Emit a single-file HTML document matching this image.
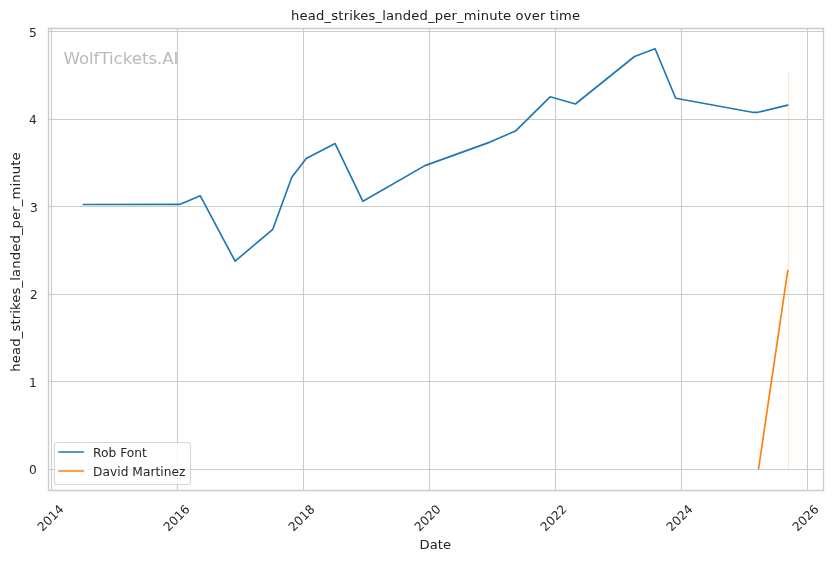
<!DOCTYPE html>
<html><head><meta charset="utf-8"><title>head_strikes_landed_per_minute over time</title><style>
html,body{margin:0;padding:0;background:#fff;}
svg{display:block;will-change:transform;}
</style></head><body>
<svg width="832" height="561" viewBox="0 0 832 561">
<rect x="0" y="0" width="832" height="561" fill="#ffffff"/>
<defs><clipPath id="ax"><rect x="47.958" y="27.716" width="775.0" height="462.0"/></clipPath></defs>
<path d="M51.5 27.716V489.716 M177.5 27.716V489.716 M303.5 27.716V489.716 M429.5 27.716V489.716 M555.5 27.716V489.716 M681.5 27.716V489.716 M807.5 27.716V489.716 M47.958 31.5H822.958 M47.958 119.5H822.958 M47.958 206.5H822.958 M47.958 294.5H822.958 M47.958 381.5H822.958 M47.958 469.5H822.958" clip-path="url(#ax)" fill="none" stroke="#cccccc" stroke-width="1.1111" stroke-linecap="round"/>
<path d="M788.5 72.50V468.72" clip-path="url(#ax)" fill="none" stroke="#ff7f0e" stroke-opacity="0.2" stroke-width="1.1111"/>
<path d="M83.19 204.50 L179.60 204.45 L200.30 195.80 L235.10 261.20 L272.80 229.30 L291.80 177.30 L306.20 158.50 L335.10 143.60 L362.90 201.30 L424.90 165.60 L490.00 142.10 L516.00 130.70 L550.10 96.80 L575.40 104.00 L634.50 56.50 L655.10 48.72 L675.70 98.20 L752.20 112.30 L757.90 112.30 L787.73 105.10" clip-path="url(#ax)" fill="none" stroke="#1f77b4" stroke-width="1.6667" stroke-linecap="round" stroke-linejoin="round"/>
<path d="M758.60 468.72 L787.73 270.61" clip-path="url(#ax)" fill="none" stroke="#ff7f0e" stroke-width="1.6667" stroke-linecap="round" stroke-linejoin="round"/>
<path d="M48.5 28.5V490.5M823.5 28.5V490.5M48.5 28.5H823.5M48.5 490.5H823.5" fill="none" stroke="#cccccc" stroke-width="1.3889" stroke-linecap="square" stroke-linejoin="miter"/>
<text transform="translate(42.532 532.055) rotate(-45)" style="font-family:'DejaVu Sans', 'Liberation Sans', sans-serif;font-size:12.222px" fill="#262626">2014</text>
<text transform="translate(168.431 531.986) rotate(-45)" style="font-family:'DejaVu Sans', 'Liberation Sans', sans-serif;font-size:12.222px" fill="#262626">2016</text>
<text transform="translate(293.416 531.952) rotate(-45)" style="font-family:'DejaVu Sans', 'Liberation Sans', sans-serif;font-size:12.222px" fill="#262626">2018</text>
<text transform="translate(419.416 532.037) rotate(-45)" style="font-family:'DejaVu Sans', 'Liberation Sans', sans-serif;font-size:12.222px" fill="#262626">2020</text>
<text transform="translate(545.407 531.969) rotate(-45)" style="font-family:'DejaVu Sans', 'Liberation Sans', sans-serif;font-size:12.222px" fill="#262626">2022</text>
<text transform="translate(671.476 531.928) rotate(-45)" style="font-family:'DejaVu Sans', 'Liberation Sans', sans-serif;font-size:12.222px" fill="#262626">2024</text>
<text transform="translate(797.450 532.079) rotate(-45)" style="font-family:'DejaVu Sans', 'Liberation Sans', sans-serif;font-size:12.222px" fill="#262626">2026</text>
<text x="419.589" y="548.709" style="font-family:'DejaVu Sans', 'Liberation Sans', sans-serif;font-size:13.150px" fill="#202020" textLength="31.39" lengthAdjust="spacing">Date</text>
<text x="28.895" y="473.660" style="font-family:'DejaVu Sans', 'Liberation Sans', sans-serif;font-size:12.222px" fill="#262626">0</text>
<text x="29.025" y="386.589" style="font-family:'DejaVu Sans', 'Liberation Sans', sans-serif;font-size:12.222px" fill="#262626">1</text>
<text x="30.110" y="298.529" style="font-family:'DejaVu Sans', 'Liberation Sans', sans-serif;font-size:12.222px" fill="#262626">2</text>
<text x="30.094" y="211.743" style="font-family:'DejaVu Sans', 'Liberation Sans', sans-serif;font-size:12.222px" fill="#262626">3</text>
<text x="28.928" y="123.670" style="font-family:'DejaVu Sans', 'Liberation Sans', sans-serif;font-size:12.222px" fill="#262626">4</text>
<text x="29.029" y="36.731" style="font-family:'DejaVu Sans', 'Liberation Sans', sans-serif;font-size:12.222px" fill="#262626">5</text>
<text transform="translate(19.717 371.651) rotate(-90)" style="font-family:'DejaVu Sans', 'Liberation Sans', sans-serif;font-size:13.150px" fill="#202020" textLength="219.29" lengthAdjust="spacing">head_strikes_landed_per_minute</text>
<text x="63.458" y="64.433" style="font-family:'DejaVu Sans', 'Liberation Sans', sans-serif;font-size:16.667px" fill="#808080" fill-opacity="0.54" textLength="115.05" lengthAdjust="spacing">WolfTickets.AI</text>
<text x="291.110" y="19.630" style="font-family:'DejaVu Sans', 'Liberation Sans', sans-serif;font-size:13.150px" fill="#202020" textLength="288.89" lengthAdjust="spacing">head_strikes_landed_per_minute over time</text>
<path d="M56.94 442.5H188.06Q190.5 442.5 190.5 444.94V482.06Q190.5 484.5 188.06 484.5H56.94Q54.5 484.5 54.5 482.06V444.94Q54.5 442.5 56.94 442.5Z" fill="#ffffff" fill-opacity="0.8" stroke="#cccccc" stroke-opacity="0.8" stroke-width="1.1111"/>
<path d="M58.96 452.00H83.4" fill="none" stroke="#1f77b4" stroke-width="1.6667" stroke-linecap="round"/>
<text x="92.936" y="456.733" style="font-family:'DejaVu Sans', 'Liberation Sans', sans-serif;font-size:12.222px" fill="#262626" textLength="53.92" lengthAdjust="spacing">Rob Font</text>
<path d="M58.96 471.00H83.4" fill="none" stroke="#ff7f0e" stroke-width="1.6667" stroke-linecap="round"/>
<text x="92.979" y="475.641" style="font-family:'DejaVu Sans', 'Liberation Sans', sans-serif;font-size:12.222px" fill="#262626" textLength="92.52" lengthAdjust="spacing">David Martinez</text>
</svg>
</body></html>
